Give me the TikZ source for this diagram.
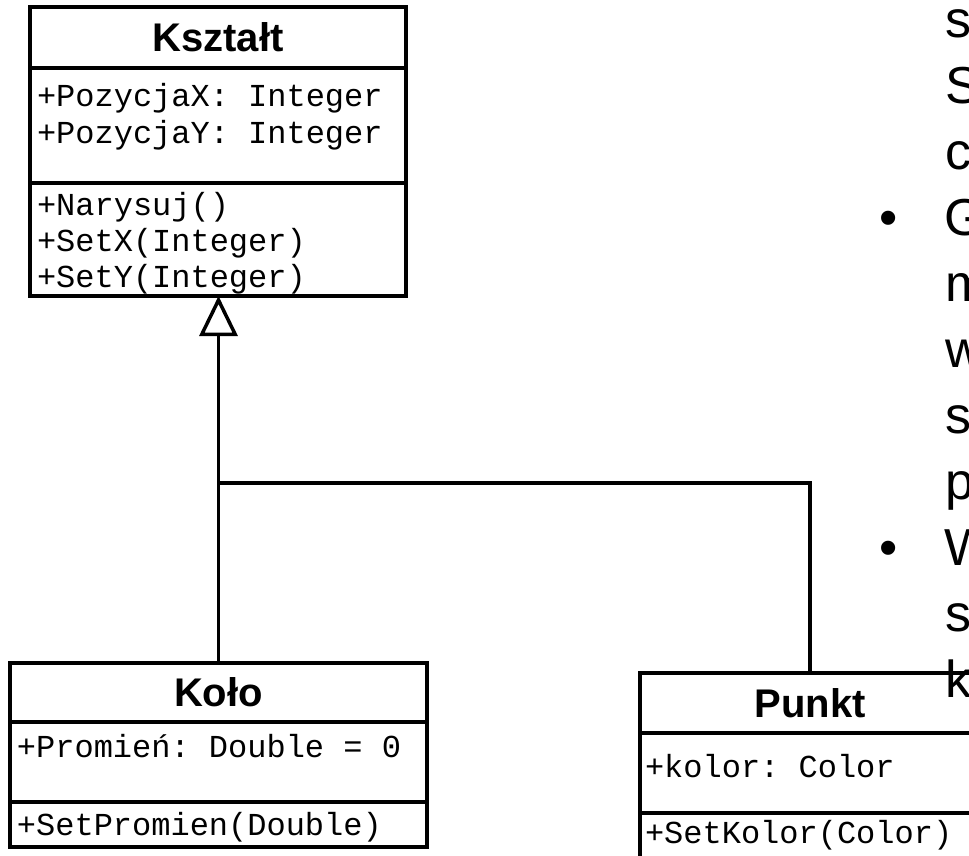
\documentclass[tikz,border=0pt]{standalone}
\usepackage{fontspec}
\setmainfont{Liberation Sans}
\setmonofont{Liberation Mono}
\usepackage{tikz}
\usetikzlibrary{positioning,arrows.meta}

\begin{document}
\begin{tikzpicture}[
    x=0.5pt, y=-0.5pt,
    classhead/.style={rectangle, draw, line width=1.75pt, outer sep=0pt, inner sep=0pt,
        font=\fontsize{20pt}{24pt}\selectfont\bfseries, text height=14.3pt, text depth=0pt},
    classpart/.style={rectangle, draw, line width=1.75pt, outer sep=0pt, inner sep=0pt},
    member/.style={inner sep=0pt, outer sep=0pt, align=left, anchor=north west,
        font=\fontsize{16pt}{18pt}\selectfont\ttfamily},
    connector/.style={line width=1.75pt},
    generalization/.style={connector, -{Triangle[open, length=20pt, width=19pt]}},
    slidetext/.style={inner sep=0pt, outer sep=0pt, align=left, anchor=north west,
        font=\fontsize{26pt}{33pt}\selectfont}
]
\useasboundingbox (0,0) rectangle (969,856);
\clip (0,0) rectangle (969,856);

% class Ksztalt
\node[classhead, minimum width=188pt, minimum height=30.5pt, anchor=north west] (ksz) at (30,7) {Kształt};
\node[classpart, minimum width=188pt, minimum height=57.5pt, below=0pt of ksz] (ksza) {};
\node[classpart, minimum width=188pt, minimum height=56.5pt, below=0pt of ksza] (kszo) {};
\node[member, below right=6.9pt and 3.5pt of ksza.north west] (kszat) {\strut+PozycjaX: Integer\\+PozycjaY: Integer};
\node[member, below right=3.4pt and 3.5pt of kszo.north west] (kszot) {\strut+Narysuj()\\+SetX(Integer)\\+SetY(Integer)};

% class Kolo
\node[classhead, minimum width=208.5pt, minimum height=29.5pt, anchor=north west] (kol) at (10,663) {Koło};
\node[classpart, minimum width=208.5pt, minimum height=40pt, below=0pt of kol] (kola) {};
\node[classpart, minimum width=208.5pt, minimum height=22.5pt, below=0pt of kola] (kolo) {};
\node[member, below right=4.9pt and 3.5pt of kola.north west] (kolat) {\strut+Promień: Double = 0};
\node[member, below right=3.9pt and 3.5pt of kolo.north west] (kolot) {\strut+SetPromien(Double)};

% class Punkt
\node[classhead, minimum width=170pt, minimum height=30pt, anchor=north west] (pkt) at (640,673) {Punkt};
\node[classpart, minimum width=170pt, minimum height=40pt, below=0pt of pkt] (pkta) {};
\node[classpart, minimum width=170pt, minimum height=22.5pt, below=0pt of pkta] (pkto) {};
\node[member, below right=9.4pt and 2.5pt of pkta.north west] (pktat) {\strut+kolor: Color};
\node[member, below right=2.4pt and 2.5pt of pkto.north west] (pktot) {\strut+SetKolor(Color)};

% inheritance
\coordinate[above=90pt of kol.north] (join);
\draw[generalization] (join) -- (join |- kszo.south);
\draw[connector] (kol.north) -- (join) -| (pkt.north);

% cut-off slide text
\node[slidetext] (notes) at (945,-9.2) {\strut s\\S\\c\\\llap{•\hspace{23.5pt}}G\\m\\w\\s\\p\\\llap{•\hspace{23.5pt}}W\\s\\k};
\end{tikzpicture}
\end{document}
